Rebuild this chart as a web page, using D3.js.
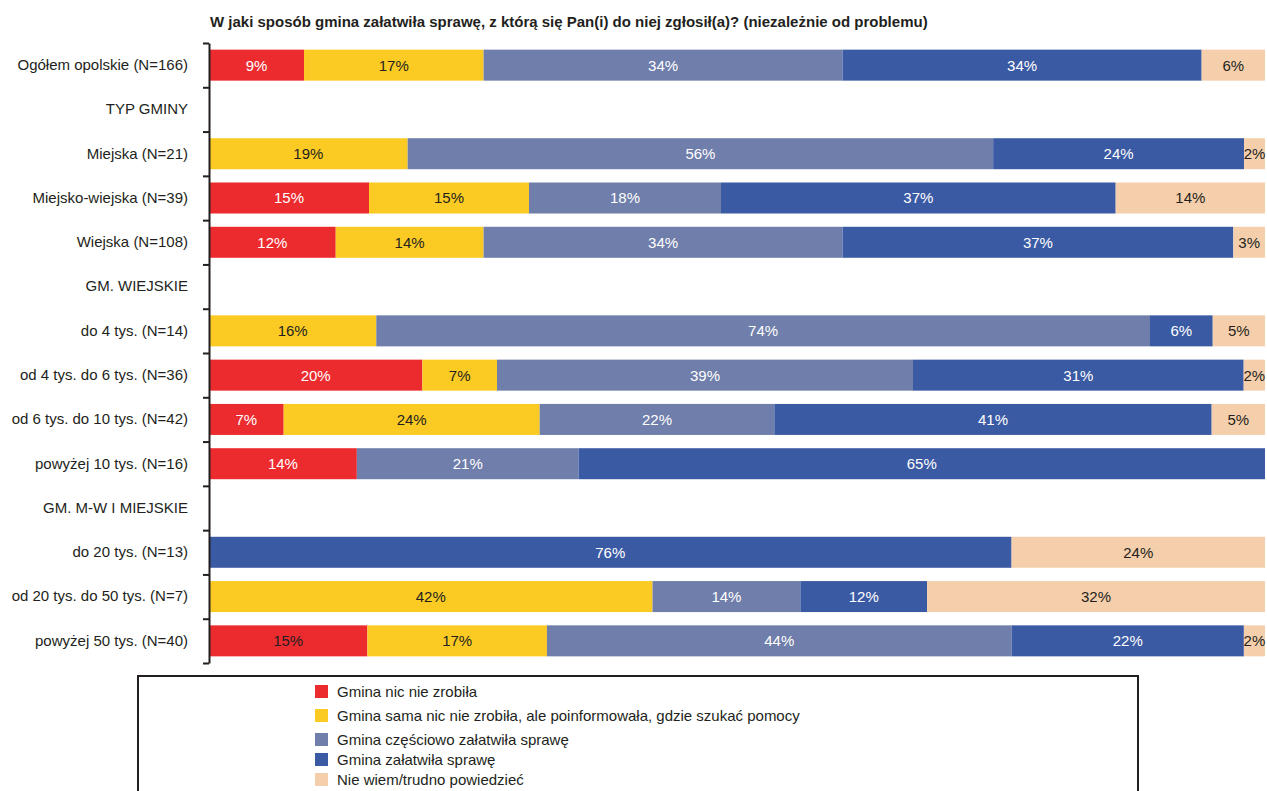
<!DOCTYPE html>
<html><head><meta charset="utf-8">
<script src="https://cdn.jsdelivr.net/npm/d3@7"></script>
<style>body{margin:0;background:#fff;font-family:"Liberation Sans",Arial,sans-serif;}</style>
</head><body><svg id="c" width="1267" height="791"></svg>
<script>
const categories = ["Ogółem opolskie (N=166)","TYP GMINY","Miejska (N=21)","Miejsko-wiejska (N=39)","Wiejska (N=108)","GM. WIEJSKIE","do 4 tys. (N=14)","od 4 tys. do 6 tys. (N=36)","od 6 tys. do 10 tys. (N=42)","powyżej 10 tys. (N=16)","GM. M-W I MIEJSKIE","do 20 tys. (N=13)","od 20 tys. do 50 tys. (N=7)","powyżej 50 tys. (N=40)"];
const seriesNames = ["Gmina nic nie zrobiła","Gmina sama nic nie zrobiła, ale poinformowała, gdzie szukać pomocy","Gmina częściowo załatwiła sprawę","Gmina załatwiła sprawę","Nie wiem/trudno powiedzieć"];
const nicNieZrobila   = [9, null, 0, 15, 12, null, 0, 20, 7, 14, null, 0, 0, 15];
const poinformowala   = [17, null, 19, 15, 14, null, 16, 7, 24, 0, null, 0, 42, 17];
const czesciowo       = [34, null, 56, 18, 34, null, 74, 39, 22, 21, null, 0, 14, 44];
const zalatwila       = [34, null, 24, 37, 37, null, 6, 31, 41, 65, null, 76, 12, 22];
const nieWiem         = [6, null, 2, 14, 3, null, 5, 2, 5, 0, null, 24, 32, 2];
const title = "W jaki sposób gmina załatwiła sprawę, z którą się Pan(i) do niej zgłosił(a)? (niezależnie od problemu)";

const seriesValues = [nicNieZrobila, poinformowala, czesciowo, zalatwila, nieWiem];
const colors = ["#EC2B2F","#FCCB23","#6F7EAA","#3B5AA4","#F5CFAB"];
const textColors = ["#ffffff","#231F20","#ffffff","#ffffff","#231F20"];
const dark = "#231F20";
const FS = 15;

const svg = d3.select("#c");
const x0 = 209, x1 = 1265, yTop = 43, yBot = 663;
const x = d3.scaleLinear().domain([0,1]).range([x0,x1]);
const y = d3.scaleBand().domain(categories).range([yTop,yBot]).paddingInner(0.3).paddingOuter(0.15);

const rows = categories.map((c,i)=>{
  const o = {cat:c};
  seriesNames.forEach((s,j)=>o[s]=seriesValues[j][i]||0);
  return o;
}).filter(r=>seriesNames.some(s=>r[s]>0));

const stack = d3.stack().keys(seriesNames).offset(d3.stackOffsetExpand);
const stacked = stack(rows);

svg.append("text").attr("x",210).attr("y",27).attr("font-size",FS).attr("font-weight","bold")
  .attr("fill",dark).text(title);

const g = svg.append("g");
stacked.forEach((layer,j)=>{
  const lg = g.append("g");
  lg.selectAll("rect").data(layer).join("rect")
    .attr("x",d=>x(d[0])).attr("width",d=>x(d[1])-x(d[0]))
    .attr("y",d=>y(d.data.cat)).attr("height",y.bandwidth())
    .attr("fill",colors[j]);
});
const lastRow = categories[categories.length-1];
stacked.forEach((layer,j)=>{
  g.append("g").selectAll("text").data(layer.filter(d=>d.data[seriesNames[j]]>0)).join("text")
    .attr("x",d=>(x(d[0])+x(d[1]))/2).attr("y",d=>y(d.data.cat)+y.bandwidth()/2)
    .attr("dy","0.36em").attr("text-anchor","middle").attr("font-size",FS)
    .attr("fill",d=>(j===0 && d.data.cat===lastRow) ? dark : textColors[j])
    .text(d=>d.data[seriesNames[j]]+"%");
});

// category labels
const labAxis = d3.axisLeft(y).tickSize(0).tickPadding(21);
const la = svg.append("g").attr("transform",`translate(${x0},0)`).call(labAxis);
la.select(".domain").remove();
la.selectAll("text").attr("font-size",FS).attr("fill",dark).attr("font-family","Liberation Sans, Arial, sans-serif");

// boundary ticks + axis line
const yb = d3.scaleLinear().domain([0,categories.length]).range([yTop,yBot]);
const ba = svg.append("g").attr("transform",`translate(${x0},0)`)
  .call(d3.axisLeft(yb).tickValues(d3.range(categories.length+1)).tickSize(6).tickSizeOuter(0).tickFormat(""));
ba.select(".domain").attr("stroke",dark).attr("stroke-width",2);
ba.selectAll(".tick line").attr("stroke",dark).attr("stroke-width",2);

// legend
svg.append("rect").attr("x",138).attr("y",676).attr("width",1000).attr("height",130)
  .attr("fill","none").attr("stroke",dark).attr("stroke-width",2);
const legY = [692,716,740,760,780];
const leg = svg.append("g").selectAll("g").data(seriesNames).join("g")
  .attr("transform",(d,i)=>`translate(315,${legY[i]})`);
leg.append("rect").attr("x",0).attr("y",-7).attr("width",13).attr("height",13).attr("fill",(d,i)=>colors[i]);
leg.append("text").attr("x",22).attr("y",0).attr("dy","0.36em").attr("font-size",FS).attr("fill",dark).text(d=>d);
</script></body></html>
